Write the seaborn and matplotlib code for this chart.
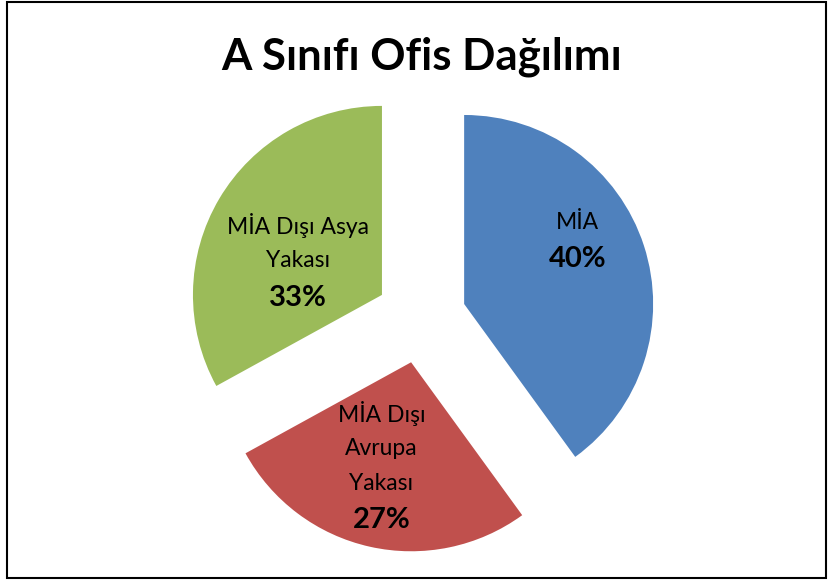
import numpy as np
import seaborn as sns
import matplotlib.pyplot as plt
from matplotlib.patches import Rectangle

sns.set_theme(style="white")
plt.rcParams['font.family'] = ['Lato', 'DejaVu Sans']

title = 'A Sınıfı Ofis Dağılımı'
names = [['MİA'], ['MİA Dışı', 'Avrupa', 'Yakası'], ['MİA Dışı Asya', 'Yakası']]
shares = [40, 27, 33]
colors = ['#4F81BD', '#C0504D', '#9BBB59']

W, H = 829, 582
cx, cy, R = 421, 318, 189  # pie centre / radius in pixels

fig = plt.figure(figsize=(W / 100, H / 100), dpi=100)
ax = fig.add_axes([0, 0, 1, 1])

wedges, _ = ax.pie(shares, colors=colors, startangle=90, counterclock=False,
                   explode=[0.24] * 3, radius=1,
                   wedgeprops=dict(linewidth=0))
ax.set_xlim(-cx / R, (W - cx) / R)
ax.set_ylim(-(H - cy) / R, cy / R)
ax.set_aspect('auto')
ax.axis('off')

# label block offsets from each wedge centre: (fraction of radius, angle in degrees)
label_pos = [(0.69, 29.5), (0.57, 254), (0.48, 158)]
step = 35 / R
for w, lines, pct, (d, a) in zip(wedges, names, shares, label_pos):
    wx, wy = w.center
    lx = wx + d * np.cos(np.radians(a))
    ly = wy + d * np.sin(np.radians(a))
    n = len(lines) + 1
    top = ly + (n - 1) * step / 2
    for i, s in enumerate(lines):
        ax.text(lx, top - i * step, s, ha='center', va='center',
                fontsize=16.5, color='black')
    ax.text(lx, top - len(lines) * step - 2 / R, f'{pct}%', ha='center', va='center',
            fontsize=21, fontweight='bold', color='black')

fig.text(422 / W, 1 - 57 / H, title, ha='center', va='center',
         fontsize=31.5, fontweight='bold', color='black')

fig.patches.append(Rectangle((7 / W, 4 / H), 819 / W, 576 / H, transform=fig.transFigure,
                             fill=False, edgecolor='black', linewidth=1.5))

fig.savefig('out.png', dpi=100, facecolor='white')
